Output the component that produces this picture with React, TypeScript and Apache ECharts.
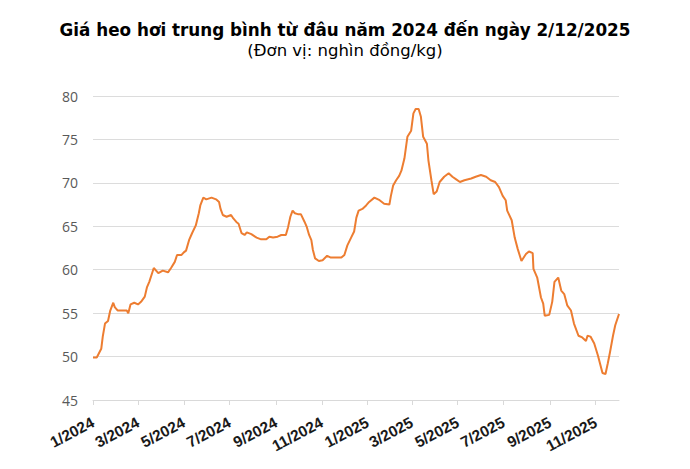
import { useEffect, useRef } from "react";
import * as echarts from "echarts";

// Giá heo hơi trung bình (nghìn đồng/kg)
const dates = [
  "2024-01-01", "2024-01-06", "2024-01-12", "2024-01-14", "2024-01-17", "2024-01-21",
  "2024-01-24", "2024-01-28", "2024-01-30", "2024-02-03", "2024-02-15", "2024-02-17",
  "2024-02-20", "2024-02-25", "2024-03-01", "2024-03-05", "2024-03-10", "2024-03-13",
  "2024-03-16", "2024-03-22", "2024-03-26", "2024-03-28", "2024-04-03", "2024-04-10",
  "2024-04-14", "2024-04-19", "2024-04-22", "2024-04-28", "2024-05-01", "2024-05-04",
  "2024-05-08", "2024-05-12", "2024-05-17", "2024-05-21", "2024-05-23", "2024-05-27",
  "2024-05-31", "2024-06-07", "2024-06-13", "2024-06-17", "2024-06-19", "2024-06-22",
  "2024-06-27", "2024-07-03", "2024-07-06", "2024-07-10", "2024-07-13", "2024-07-17",
  "2024-07-21", "2024-07-24", "2024-07-30", "2024-08-06", "2024-08-12", "2024-08-19",
  "2024-08-23", "2024-08-28", "2024-09-03", "2024-09-08", "2024-09-14", "2024-09-17",
  "2024-09-20", "2024-09-23", "2024-09-26", "2024-09-30", "2024-10-04", "2024-10-09",
  "2024-10-12", "2024-10-15", "2024-10-18", "2024-10-20", "2024-10-23", "2024-10-28",
  "2024-11-02", "2024-11-08", "2024-11-13", "2024-11-20", "2024-11-27", "2024-12-01",
  "2024-12-05", "2024-12-10", "2024-12-14", "2024-12-17", "2024-12-20", "2024-12-25",
  "2024-12-30", "2025-01-03", "2025-01-10", "2025-01-17", "2025-01-23", "2025-01-30",
  "2025-02-01", "2025-02-04", "2025-02-08", "2025-02-12", "2025-02-15", "2025-02-19",
  "2025-02-23", "2025-02-28", "2025-03-03", "2025-03-06", "2025-03-10", "2025-03-13",
  "2025-03-16", "2025-03-21", "2025-03-23", "2025-03-27", "2025-03-30", "2025-04-03",
  "2025-04-07", "2025-04-13", "2025-04-19", "2025-04-24", "2025-04-29", "2025-05-04",
  "2025-05-10", "2025-05-19", "2025-05-25", "2025-06-01", "2025-06-08", "2025-06-14",
  "2025-06-20", "2025-06-25", "2025-06-30", "2025-07-04", "2025-07-06", "2025-07-12",
  "2025-07-16", "2025-07-20", "2025-07-25", "2025-07-31", "2025-08-04", "2025-08-09",
  "2025-08-10", "2025-08-15", "2025-08-20", "2025-08-23", "2025-08-25", "2025-08-31",
  "2025-09-04", "2025-09-07", "2025-09-12", "2025-09-16", "2025-09-20", "2025-09-24",
  "2025-09-29", "2025-10-03", "2025-10-09", "2025-10-14", "2025-10-19", "2025-10-21",
  "2025-10-25", "2025-10-30", "2025-11-04", "2025-11-10", "2025-11-14", "2025-11-17",
  "2025-11-20", "2025-11-24", "2025-11-27", "2025-12-02",
];

const prices = [
  49.9, 49.9, 50.9, 52.3, 53.8, 54.1,
  55.3, 56.2, 55.7, 55.3, 55.3, 55.0,
  56.0, 56.2, 56.0, 56.3, 56.9, 58.0,
  58.6, 60.2, 59.8, 59.6, 59.9, 59.7,
  60.2, 60.9, 61.7, 61.7, 62.0, 62.2,
  63.4, 64.2, 65.1, 66.5, 67.4, 68.3,
  68.1, 68.3, 68.1, 67.8, 67.0, 66.3,
  66.1, 66.3, 65.9, 65.5, 65.3, 64.2,
  64.0, 64.3, 64.1, 63.7, 63.5, 63.5,
  63.8, 63.7, 63.8, 64.0, 64.0, 64.9,
  66.1, 66.8, 66.5, 66.4, 66.4, 65.5,
  64.9, 64.0, 63.4, 62.3, 61.3, 61.0,
  61.1, 61.6, 61.4, 61.4, 61.4, 61.7,
  62.8, 63.7, 64.4, 66.0, 66.8, 67.0,
  67.4, 67.8, 68.3, 68.0, 67.6, 67.5,
  68.5, 69.7, 70.3, 70.8, 71.4, 72.8,
  75.3, 76.0, 78.0, 78.5, 78.5, 77.6,
  75.3, 74.5, 72.6, 70.3, 68.7, 69.0,
  70.1, 70.7, 71.1, 70.7, 70.4, 70.1,
  70.3, 70.5, 70.7, 70.9, 70.7, 70.3,
  70.1, 69.5, 68.5, 68.0, 66.8, 65.7,
  63.7, 62.4, 61.0, 61.8, 62.1, 61.9,
  60.1, 59.1, 56.8, 56.1, 54.7, 54.8,
  56.3, 58.6, 59.1, 57.6, 57.2, 55.9,
  55.3, 53.8, 52.4, 52.2, 51.8, 52.4,
  52.3, 51.5, 50.1, 48.1, 48.0, 49.2,
  50.5, 52.4, 53.6, 54.9,
];

const TITLE = "Giá heo hơi trung bình từ đâu năm 2024 đến ngày 2/12/2025";
const SUBTITLE = "(Đơn vị: nghìn đồng/kg)";
const DAY = 24 * 3600 * 1000;

export default function App() {
  const ref = useRef<HTMLDivElement>(null);

  useEffect(() => {
    if (!ref.current) return;
    const chart = echarts.init(ref.current, null, { renderer: "svg" });

    chart.setOption({
      animation: false,
      backgroundColor: "#ffffff",
      title: {
        text: TITLE,
        subtext: SUBTITLE,
        left: "center",
        top: 16,
        itemGap: 4,
        textStyle: {
          fontFamily: "DejaVu Sans",
          fontWeight: "bold",
          fontSize: 16.8,
          color: "#000000",
        },
        subtextStyle: {
          fontFamily: "DejaVu Sans",
          fontSize: 16.5,
          color: "#000000",
        },
      },
      grid: { left: 93, right: 71, top: 96, bottom: 69 },
      xAxis: {
        type: "time",
        min: dates[0],
        max: dates[dates.length - 1],
        minInterval: 61 * DAY,
        maxInterval: 61 * DAY,
        splitLine: { show: false },
        axisLine: { lineStyle: { color: "#d9d9d9", width: 1 } },
        axisTick: { show: true, length: 5, lineStyle: { color: "#d9d9d9" } },
        axisLabel: {
          rotate: 28,
          margin: 21,
          hideOverlap: false,
          showMaxLabel: false,
          fontFamily: "Liberation Sans",
          fontWeight: "bold",
          fontSize: 15.5,
          color: "#1a1a1a",
          formatter: (v: number) => {
            const d = new Date(v);
            return `${d.getMonth() + 1}/${d.getFullYear()}`;
          },
        },
      },
      yAxis: {
        type: "value",
        min: 45,
        max: 80,
        interval: 5,
        axisLine: { show: false },
        axisTick: { show: false },
        axisLabel: {
          margin: 15,
          fontFamily: "Open Sans",
          fontSize: 14,
          color: "#595959",
        },
        splitLine: { lineStyle: { color: "#dcdcdc", width: 1 } },
      },
      series: [
        {
          type: "line",
          data: dates.map((d, i) => [d, prices[i]]),
          showSymbol: false,
          lineStyle: { color: "#ED7D31", width: 2 },
          itemStyle: { color: "#ED7D31" },
        },
      ],
    });

    return () => {
      chart.dispose();
    };
  }, []);

  return (
    <div
      ref={ref}
      style={{ position: "absolute", left: 0, top: 0, width: 690, height: 469 }}
    />
  );
}
